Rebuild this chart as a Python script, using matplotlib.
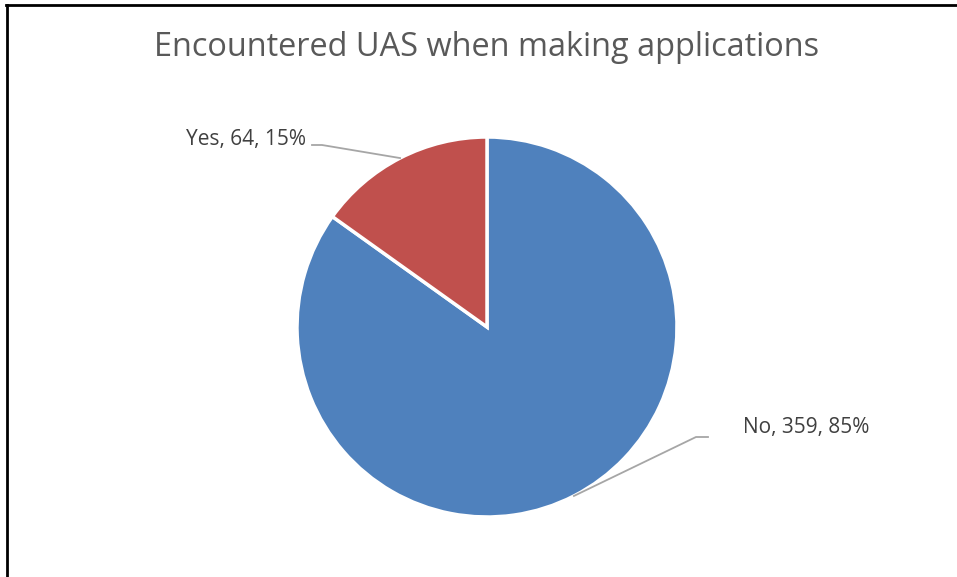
import numpy as np
import matplotlib.pyplot as plt
from matplotlib.lines import Line2D

labels = ["No", "Yes"]
counts = [359, 64]
percents = ["85%", "15%"]
colors = ["#4F81BD", "#C0504D"]

W, H = 957, 577
fig = plt.figure(figsize=(W / 100, H / 100), dpi=100)
ax = fig.add_axes([0, 0, 1, 1])

cx, cy, r = 487, H - 327, 190
wedges, _ = ax.pie(counts, colors=colors, startangle=90, counterclock=False,
                   center=(cx, cy), radius=r,
                   wedgeprops=dict(edgecolor="white", linewidth=2.5))
ax.set_xlim(0, W)
ax.set_ylim(0, H)
ax.set_aspect("auto")
ax.axis("off")

# leader lines + data labels
grey = "#A6A6A6"
txtc = "#404040"
for w, lab, n, p in zip(wedges, labels, counts, percents):
    mid = np.deg2rad((w.theta1 + w.theta2) / 2)
    ex, ey = cx + r * np.cos(mid), cy + r * np.sin(mid)
    s = f"{lab}, {n}, {p}"
    if lab == "Yes":
        ax.plot([ex, 322, 312], [ey, H - 145, H - 145], color=grey, lw=1.3)
        ax.text(306, H - 140, s, ha="right", va="center", fontsize=15,
                color=txtc, family="Open Sans")
    else:
        ax.plot([ex, 696, 708], [ey, H - 437, H - 437], color=grey, lw=1.3)
        ax.text(743, H - 428, s, ha="left", va="center", fontsize=15,
                color=txtc, family="Open Sans")

fig.text(487 / W, 1 - 48 / H, "Encountered UAS when making applications",
         ha="center", va="center", fontsize=23.4, color="#595959",
         family="Open Sans")

# chart border (top and left visible)
fig.add_artist(Line2D([6 / W, 1], [1 - 4.5 / H, 1 - 4.5 / H], color="black",
                      lw=2, transform=fig.transFigure))
fig.add_artist(Line2D([7 / W, 7 / W], [0, 1 - 4.5 / H], color="black",
                      lw=2, transform=fig.transFigure))

fig.savefig("out.png", dpi=100)
